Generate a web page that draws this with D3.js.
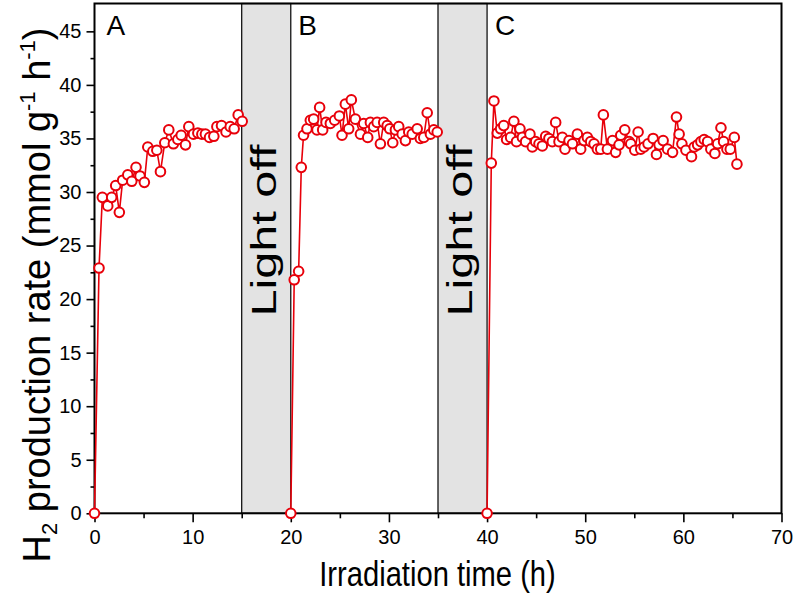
<!DOCTYPE html>
<html>
<head>
<meta charset="utf-8">
<script src="https://cdn.jsdelivr.net/npm/d3@7"></script>
<style>
  html, body { margin: 0; padding: 0; background: #fff; }
  svg { display: block; }
</style>
</head>
<body>
<svg id="chart" width="797" height="595"></svg>
<script>
// ---- Data ----
const segmentLabels = ["A", "B", "C"];
const segmentStarts = [0, 20, 40];
const darkPeriods = [[15, 20], [35, 40]];
const darkLabel = "Light off";

const timeA = [0, 0.46, 0.8, 1.35, 1.75, 2.16, 2.53, 2.87, 3.39, 3.8, 4.23, 4.64, 5.08, 5.43, 5.94, 6.35, 6.72, 7.16, 7.57, 8.04, 8.49, 8.83, 9.27, 9.61, 10.08, 10.53, 10.94, 11.3, 11.72, 12.16, 12.47, 12.94, 13.4, 13.83, 14.23, 14.64, 15.05];
const rateA = [0, 22.9, 29.5, 28.7, 29.5, 30.6, 28.1, 31.1, 31.6, 31.0, 32.3, 31.5, 30.9, 34.2, 33.8, 33.9, 31.9, 34.6, 35.8, 34.5, 34.9, 35.3, 34.4, 36.1, 35.4, 35.5, 35.4, 35.4, 35.1, 35.2, 36.1, 36.2, 35.6, 36.1, 35.9, 37.2, 36.6];

const timeB = [20, 20.35, 20.8, 21.07, 21.3, 21.65, 21.99, 22.33, 22.67, 22.94, 23.25, 23.59, 24.03, 24.47, 24.95, 25.22, 25.56, 25.9, 26.17, 26.58, 27.1, 27.43, 27.84, 28.11, 28.45, 28.8, 29.13, 29.47, 29.82, 30.08, 30.39, 30.66, 31.0, 31.35, 31.68, 32.02, 32.37, 32.88, 33.2, 33.55, 33.9, 34.23, 34.57, 34.92];
const rateB = [0, 21.8, 22.6, 32.3, 35.3, 35.9, 36.7, 36.8, 35.8, 37.9, 35.8, 36.5, 36.4, 36.7, 37.1, 35.3, 38.2, 35.9, 38.6, 36.8, 35.4, 36.4, 35.1, 36.5, 36.1, 36.5, 34.5, 36.5, 36.2, 35.9, 34.6, 35.8, 36.1, 35.4, 34.8, 35.6, 35.4, 35.9, 35.0, 35.1, 37.4, 35.4, 35.8, 35.6];

const timeC = [40, 40.43, 40.7, 41.04, 41.38, 41.7, 41.99, 42.4, 42.73, 43.0, 43.35, 43.6, 43.93, 44.37, 44.61, 44.95, 45.29, 45.63, 45.97, 46.3, 46.65, 46.99, 47.33, 47.67, 47.94, 48.35, 48.7, 49.2, 49.54, 49.88, 50.22, 50.56, 50.9, 51.24, 51.58, 51.85, 52.26, 52.78, 53.1, 53.45, 53.62, 54.03, 54.47, 54.64, 55.05, 55.39, 55.66, 56.0, 56.4, 56.92, 57.26, 57.53, 57.94, 58.39, 58.9, 59.3, 59.57, 59.85, 60.26, 60.83, 61.1, 61.45, 61.79, 62.12, 62.47, 62.8, 63.21, 63.49, 63.83, 64.1, 64.44, 64.78, 65.19, 65.46];
const rateC = [0, 32.7, 38.5, 35.5, 35.9, 36.2, 34.9, 35.1, 36.6, 34.7, 35.9, 35.1, 34.7, 35.4, 34.2, 34.7, 34.5, 34.3, 35.2, 35.0, 34.7, 36.5, 34.7, 35.1, 34.0, 34.8, 34.5, 35.4, 34.0, 34.8, 35.1, 34.7, 34.5, 34.0, 34.0, 37.2, 34.0, 34.8, 33.7, 34.4, 35.3, 35.8, 34.7, 34.5, 33.9, 35.6, 34.0, 34.2, 34.5, 35.0, 33.5, 34.4, 34.8, 34.0, 33.7, 37.0, 35.4, 34.5, 33.9, 33.3, 34.2, 34.4, 34.7, 34.9, 34.7, 34.0, 33.6, 34.5, 36.0, 34.7, 34.0, 34.0, 35.1, 32.6];

const xTicks = [0, 10, 20, 30, 40, 50, 60, 70];
const yTicks = [0, 5, 10, 15, 20, 25, 30, 35, 40, 45];
const xLabel = "Irradiation time (h)";

// ---- Layout ----
const svg = d3.select("#chart");
const pL = 94.5, pR = 781.5, pT = 3.5, pB = 513.3;
const x = d3.scaleLinear().domain([0, 70]).range([pL, pR]);
const y = d3.scaleLinear().domain([0, 47.6]).range([pB, pT]);
const red = "#e8000a";
const fontMain = "'Liberation Sans', Arial, Helvetica, sans-serif";

// Dark (light off) periods
svg.selectAll("rect.dark").data(darkPeriods).enter().append("rect")
  .attr("class", "dark")
  .attr("x", d => x(d[0])).attr("y", pT)
  .attr("width", d => x(d[1]) - x(d[0])).attr("height", pB - pT)
  .attr("fill", "#e3e3e3").attr("stroke", "#000").attr("stroke-width", 1.2);

svg.selectAll("text.dark").data(darkPeriods).enter().append("text")
  .attr("class", "dark")
  .attr("transform", d => `translate(${(x(d[0]) + x(d[1])) / 2 + 9.5},${y(26.4)}) rotate(-90) scale(1.35,1)`)
  .attr("text-anchor", "middle")
  .attr("font-family", fontMain).attr("font-size", 36)
  .attr("fill", "#000")
  .text(darkLabel);

// Axes
const xAxis = d3.axisBottom(x).tickValues(xTicks).tickSize(9).tickPadding(7.5).tickFormat(d3.format("d"));
const xMinor = d3.axisBottom(x).tickValues(d3.range(5, 70, 10)).tickSize(5).tickFormat("");
const yAxis = d3.axisLeft(y).tickValues(yTicks).tickSize(8).tickPadding(5).tickFormat(d3.format("d"));
const yMinor = d3.axisLeft(y).tickValues(d3.range(2.5, 47.5, 5)).tickSize(4).tickFormat("");

function styleAxis(g, size) {
  g.select(".domain").remove();
  g.selectAll("line").attr("stroke", "#000").attr("stroke-width", 1.6);
  g.selectAll("text").attr("font-family", fontMain).attr("font-size", size).attr("fill", "#000");
}
svg.append("g").attr("transform", `translate(0,${pB})`).call(xMinor).call(g => styleAxis(g, 20));
svg.append("g").attr("transform", `translate(0,${pB})`).call(xAxis).call(g => styleAxis(g, 20));
svg.append("g").attr("transform", `translate(${pL},0)`).call(yMinor).call(g => styleAxis(g, 20));
svg.append("g").attr("transform", `translate(${pL},0)`).call(yAxis).call(g => styleAxis(g, 20));

// Frame
svg.append("rect").attr("x", pL).attr("y", pT)
  .attr("width", pR - pL).attr("height", pB - pT)
  .attr("fill", "none").attr("stroke", "#000").attr("stroke-width", 2);

// Series
const segments = [
  { t: timeA, v: rateA },
  { t: timeB, v: rateB },
  { t: timeC, v: rateC }
];
const line = d3.line().x(d => x(d[0])).y(d => y(d[1]));
segments.forEach(s => {
  const pts = s.t.map((t, i) => [t, s.v[i]]);
  svg.append("path").datum(pts).attr("d", line)
    .attr("fill", "none").attr("stroke", red).attr("stroke-width", 1.6);
  svg.append("g").selectAll("circle").data(pts).enter().append("circle")
    .attr("cx", d => x(d[0])).attr("cy", d => y(d[1])).attr("r", 4.8)
    .attr("fill", "#fff").attr("stroke", red).attr("stroke-width", 2);
});

// Segment letters
const letterOffsets = [12, 7.5, 8];
svg.selectAll("text.seg").data(segmentLabels).enter().append("text")
  .attr("class", "seg")
  .attr("x", (d, i) => x(segmentStarts[i]) + letterOffsets[i])
  .attr("y", 35)
  .attr("font-family", fontMain).attr("font-size", 28).attr("fill", "#000")
  .text(d => d);

// Axis titles
svg.append("text")
  .attr("transform", `translate(437.5,586) scale(0.81,1)`)
  .attr("text-anchor", "middle")
  .attr("font-family", fontMain).attr("font-size", 36).attr("fill", "#000")
  .text(xLabel);

const yTitle = svg.append("text")
  .attr("transform", `translate(50,295) rotate(-90)`)
  .attr("text-anchor", "middle")
  .attr("font-family", fontMain).attr("font-size", 38).attr("fill", "#000");
yTitle.append("tspan").text("H");
yTitle.append("tspan").attr("font-size", 22).attr("dy", 7).text("2");
yTitle.append("tspan").attr("dy", -7).text(" production rate (mmol g");
yTitle.append("tspan").attr("font-size", 22).attr("dy", -15).text("-1");
yTitle.append("tspan").attr("dy", 15).text(" h");
yTitle.append("tspan").attr("font-size", 22).attr("dy", -15).text("-1");
yTitle.append("tspan").attr("dy", 15).text(")");
</script>
</body>
</html>
